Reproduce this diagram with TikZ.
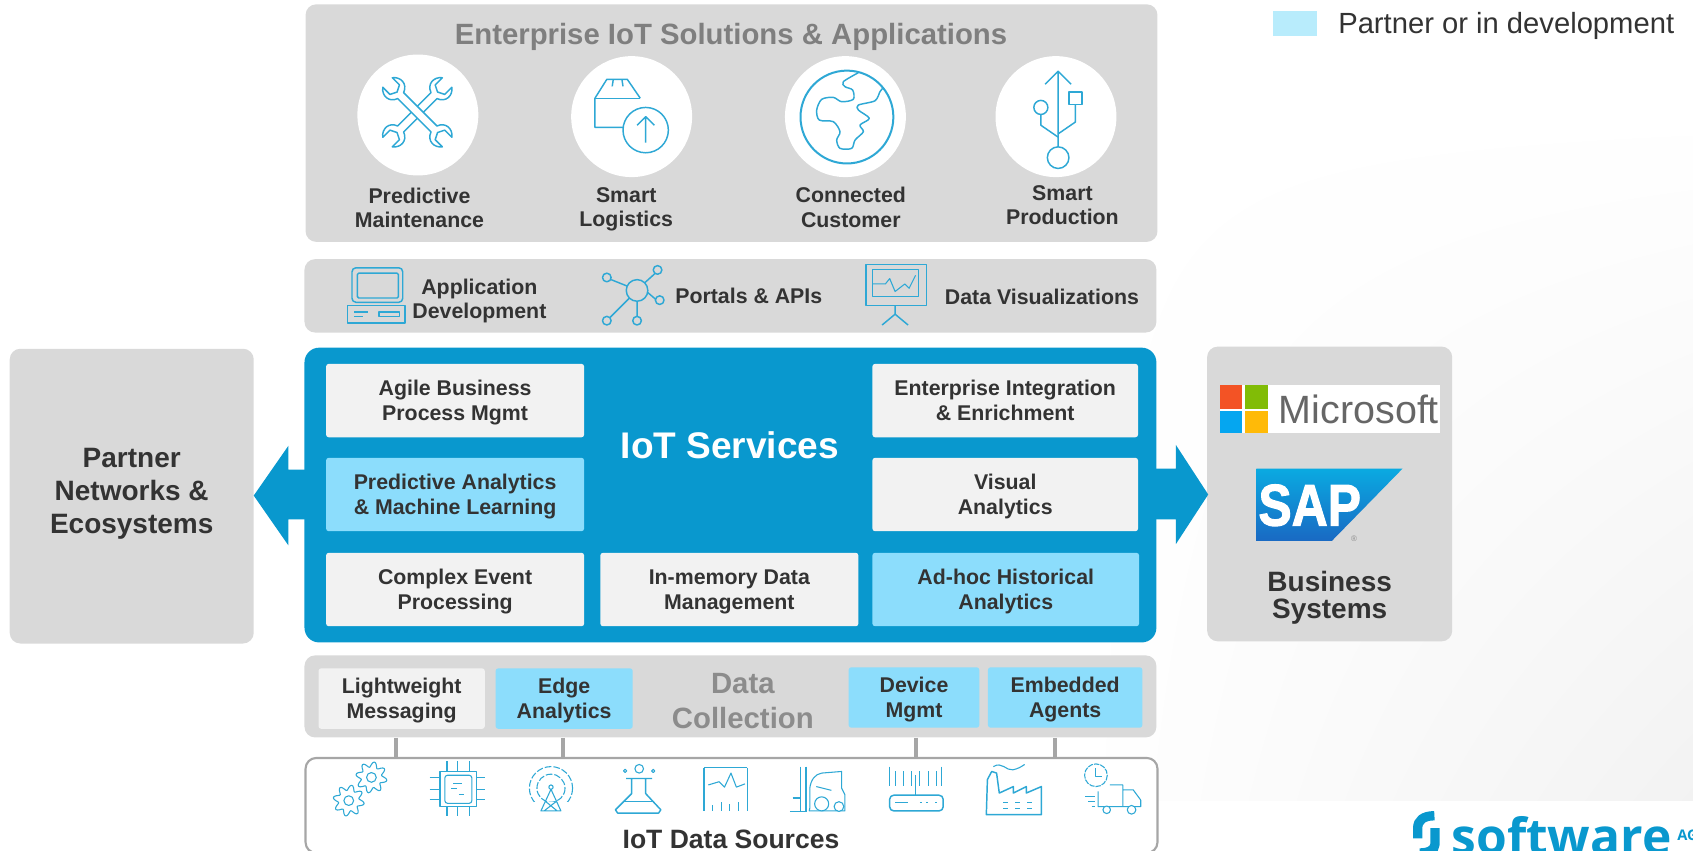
\documentclass[tikz,border=0pt]{standalone}
\usepackage{fontspec}
\usetikzlibrary{shadings}
\setmainfont{Liberation Sans}
\newfontfamily\logofont{Open Sans}
\newfontfamily\sapfont[FakeBold=2]{Liberation Sans}
\definecolor{panelgray}{RGB}{217,217,217}
\definecolor{boxgray}{RGB}{242,242,242}
\definecolor{boxblue}{RGB}{140,221,252}
\definecolor{legendblue}{RGB}{184,236,252}
\definecolor{servicesblue}{RGB}{9,152,206}
\definecolor{iconblue}{RGB}{46,168,213}
\definecolor{darktext}{RGB}{51,51,51}
\definecolor{headgray}{RGB}{127,127,127}
\definecolor{stemgray}{RGB}{166,166,166}
\definecolor{msred}{RGB}{243,83,37}
\definecolor{msgreen}{RGB}{129,188,6}
\definecolor{msblue}{RGB}{5,166,240}
\definecolor{msyellow}{RGB}{255,186,8}
\definecolor{saptop}{RGB}{10,170,225}
\definecolor{sapbottom}{RGB}{25,105,195}
\tikzset{every picture/.style={line width=0.75pt}}
\tikzset{
  wd/.style={minimum width=#1*0.81pt},
  ht/.style={minimum height=#1*0.81pt},
  panel/.style={fill=panelgray,rounded corners=8pt,inner sep=0pt},
  itembox/.style={fill=boxgray,rounded corners=2pt,inner sep=0pt,align=center,text=darktext,text depth=0pt,
    font=\fontsize{16}{19}\selectfont\bfseries},
  partnerbox/.style={itembox,fill=boxblue},
  caption/.style={inner sep=0pt,align=center,text=darktext,text depth=0pt,font=\fontsize{16}{18}\selectfont\bfseries},
  bigcaption/.style={inner sep=0pt,align=center,text=darktext,text depth=0pt,font=\fontsize{21}{24.7}\selectfont\bfseries},
  headcaption/.style={inner sep=0pt,align=center,text=headgray,text depth=0pt,font=\fontsize{22}{24}\selectfont\bfseries},
  whitedisc/.style={circle,fill=white,inner sep=0pt,minimum size=112*0.81pt},
  icon/.style={draw=iconblue,line width=1.1pt,line join=round},
  thinicon/.style={draw=iconblue,line width=0.8pt,line join=round},
  stem/.style={draw=stemgray,line width=3pt},
  logostroke/.style={draw=servicesblue,line width=7pt},
}

\begin{document}
\begin{tikzpicture}[x=0.81pt,y=0.81pt,yscale=-1,xscale=1]
\useasboundingbox (0,0) rectangle (1568,788);

%Shape: faint background
\shade[upper left=white,upper right=white,lower left=white,lower right=black!5] (1000,100) rectangle (1568,741);

%Shape: Panels
\node[panel,wd=789,ht=220] (solutions) at (677.5,114) {};
\node[panel,wd=789,ht=68] (tools) at (676.5,274) {};
\node[panel,wd=226,ht=273] (partners) at (122,459.5) {};
\node[panel,wd=227,ht=273] (business) at (1231.5,457.5) {};
\node[panel,fill=white,draw=stemgray,line width=1.6pt,wd=789,ht=88] (sources) at (677.5,746) {};
\node[panel,wd=789,ht=76] (collect) at (676.5,645) {};

%Shape: Arrows left and right of the services block
\fill[servicesblue] (290,435) -- (267,435) -- (267,413) -- (235,459) -- (267,505) -- (267,481) -- (290,481) -- cycle;
\fill[servicesblue] (1060,434) -- (1089,434) -- (1089,412) -- (1119,458) -- (1089,504) -- (1089,481) -- (1060,481) -- cycle;
\node[panel,fill=servicesblue,rounded corners=11pt,wd=789,ht=273] (services) at (676.5,458.5) {};

%Shape: Service boxes
\node[itembox,wd=239,ht=68] (agile) at (421.5,371) {Agile Business\\Process Mgmt};
\node[partnerbox,wd=239,ht=68] (predict) at (421.5,458) {Predictive Analytics\\\& Machine Learning};
\node[itembox,wd=239,ht=68] (complex) at (421.5,546) {Complex Event\\Processing};
\node[itembox,wd=239,ht=68] (inmemory) at (675.5,546) {In-memory Data\\Management};
\node[itembox,wd=246,ht=68] (enterprise) at (931,371) {Enterprise Integration\\\& Enrichment};
\node[itembox,wd=246,ht=68] (visual) at (931,458) {Visual\\Analytics};
\node[partnerbox,wd=247,ht=68] (adhoc) at (931.5,546) {Ad-hoc Historical\\Analytics};

%Shape: Collection boxes
\node[itembox,wd=154,ht=56] (messaging) at (372,647) {Lightweight\\Messaging};
\node[partnerbox,wd=127,ht=56] (edge) at (522.5,647) {Edge\\Analytics};
\node[partnerbox,wd=121,ht=56] (device) at (846.5,646) {Device\\Mgmt};
\node[partnerbox,wd=143,ht=56] (agents) at (986.5,646) {Embedded\\Agents};

%Straight Lines
\coordinate (stemA) at (367,690);
\coordinate (stemB) at (521,690);
\coordinate (stemC) at (848,690);
\coordinate (stemD) at (977,690);
\draw[stem] (stemA |- collect.south) -- (stemA |- sources.north);
\draw[stem] (stemB |- collect.south) -- (stemB |- sources.north);
\draw[stem] (stemC |- collect.south) -- (stemC |- sources.north);
\draw[stem] (stemD |- collect.south) -- (stemD |- sources.north);

%Shape: Legend
\node[fill=legendblue,inner sep=0pt,wd=41,ht=23] (legend) at (1199.5,21.5) {};

%Shape: White discs
\node[whitedisc] (discA) at (387,106.5) {};
\node[whitedisc] (discB) at (585,108) {};
\node[whitedisc] (discC) at (783,108) {};
\node[whitedisc] (discD) at (978,108) {};

%Wrenches
\begin{scope}[shift={(386.5,104)},rotate=45,scale=0.78]
\draw[icon] (-5,-28) -- (-5,28) .. controls (-16,32) and (-16,44) .. (-8,50) -- (-8,38) -- (0,34) -- (8,38) -- (8,50) .. controls (16,44) and (16,32) .. (5,28) -- (5,-28) .. controls (16,-32) and (16,-44) .. (8,-50) -- (8,-38) -- (0,-34) -- (-8,-38) -- (-8,-50) .. controls (-16,-44) and (-16,-32) .. (-5,-28) -- cycle;
\draw[icon,fill=white,rotate=90] (-5,-28) -- (-5,28) .. controls (-16,32) and (-16,44) .. (-8,50) -- (-8,38) -- (0,34) -- (8,38) -- (8,50) .. controls (16,44) and (16,32) .. (5,28) -- (5,-28) .. controls (16,-32) and (16,-44) .. (8,-50) -- (8,-38) -- (0,-34) -- (-8,-38) -- (-8,-50) .. controls (-16,-44) and (-16,-32) .. (-5,-28) -- cycle;
\end{scope}
%Parcel with upload
\draw[icon] (593,91) -- (581,73.5) -- (562,73.5) -- (551,91) -- (551,118) -- (577,118);
\draw[icon] (551,91) -- (593,91);
\draw[icon] (568,73.5) -- (567,80) (576,73.5) -- (577,80);
\draw[icon] (598,120.5) circle (21);
\draw[icon] (598,132) -- (598,108) (590,116) -- (598,108) -- (606,116);
%Globe
\draw[icon,line width=1.5pt] (784.4,108.4) circle (43);
\draw[icon] plot[smooth] coordinates {(795,67.3) (781,75.7) (782.6,80.3) (789.7,83.4) (790.3,92) (779.5,94.2) (771.8,90.2) (761,92) (756.4,101.9) (758.8,111.2) (771.8,112.7) (778,122) (774.9,129.7) (778,137.4) (788.8,137.4) (791.9,129.7) (799.6,122) (796.5,115.8) (805.1,109.6) (795,101.9) (795,97.3) (810.4,93.3) (815,84.9) (817.5,81.8)};
%USB
\draw[icon] (980,136) -- (980,66) (968,78) -- (980,66) -- (992,78);
\draw[icon] (980,146) circle (10);
\draw[icon] (964,99.5) circle (6.5);
\draw[icon] (964,106) -- (964,116) -- (980,127);
\draw[icon] (990,85) rectangle (1002,97);
\draw[icon] (996,97) -- (996,113) -- (980,124);

%Computer
\draw[icon,rounded corners=3pt] (326,248) rectangle (373,280);
\draw[icon,rounded corners=1pt] (331,253) rectangle (369,276);
\draw[icon] (322,283) rectangle (375,299);
\draw[icon] (351,289) rectangle (370,293);
\draw[icon] (328,289) -- (341,289) (328,293) -- (336,293);
%Hub
\draw[icon] (590,269) circle (10);
\draw[icon] (609,250) circle (4) (562,257) circle (4) (611,278) circle (4) (562,297) circle (4) (590,297) circle (4);
\draw[icon] (597,262) -- (607,253) (581,265) -- (566,259) (600,271) -- (607,277) (583,276) -- (565,294) (590,279) -- (590,293);
%Board
\draw[icon] (802,245) rectangle (858,283);
\draw[thinicon] (808,250) rectangle (851,275);
\draw[icon] (802,245) -- (858,245);
\draw[thinicon] (808,263) -- (820,263) -- (824,258) -- (829,270) -- (838,263) -- (842,267) -- (848,255);
\draw[icon] (829,283) -- (829,291) -- (817,301) (829,291) -- (841,301);

%Gears
\draw[thinicon,shift={(344,720)}] plot[domain=0:360,samples=73] ({(12+2.5*sin(8*\x))*cos(\x)},{(12+2.5*sin(8*\x))*sin(\x)}) -- cycle;
\draw[thinicon] (344,720) circle (4.5);
\draw[thinicon,shift={(323,741.5)}] plot[domain=0:360,samples=73] ({(12+2.5*sin(8*\x))*cos(\x)},{(12+2.5*sin(8*\x))*sin(\x)}) -- cycle;
\draw[thinicon] (323,741.5) circle (4.5);
%Chip
\draw[icon] (407.5,714.5) rectangle (441.5,747);
\draw[thinicon,rounded corners=2pt] (412,718) rectangle (437,744);
\draw[thinicon] (414,705) -- (414,714.5) (424,705) -- (424,714.5) (435,705) -- (435,714.5) (414,747) -- (414,756) (424,747) -- (424,756) (435,747) -- (435,756);
\draw[thinicon] (398,720.5) -- (407.5,720.5) (398,731.5) -- (407.5,731.5) (398,740.5) -- (407.5,740.5) (441.5,720.5) -- (449,720.5) (441.5,731.5) -- (449,731.5) (441.5,740.5) -- (449,740.5);
\draw[thinicon] (420,726) -- (427.5,726) (418,730.5) -- (423,730.5) (425,736) -- (430,736);
%Tower
\draw[thinicon,dash pattern=on 5pt off 1.5pt] (510.3,730) circle (20);
\draw[thinicon,dash pattern=on 5pt off 1.5pt] (510.3,730) circle (13);
\draw[white,fill=white] (495,743) rectangle (526,756);
\draw[thinicon] (510.3,729) circle (2);
\draw[thinicon] (510.3,731) -- (501,751) -- (519.5,751) -- cycle (505,742) -- (516,751) (515.5,742) -- (504,751);
%Flask
\draw[icon] (580,721) -- (604,721) (585,721) -- (585,735) -- (570,750) -- (572,753) -- (610,753) -- (612,750) -- (598,735) -- (598,721);
\draw[thinicon] (577,742) -- (605,742);
\draw[thinicon] (592,712) circle (4) (579,714) circle (1.5) (605,714) circle (1.5);
%Tablet
\draw[icon] (652,711) -- (692,711);
\draw[thinicon] (652,711) -- (652,751) (692,711) -- (692,751);
\draw[thinicon] (656,727) -- (666,724) -- (671,729) -- (677,716) -- (682,729) -- (690,726);
\draw[thinicon] (660,746) -- (660,751) (668,743) -- (668,751) (676,745) -- (676,751) (684,743) -- (684,751);
%Forklift
\draw[icon] (741.5,710) -- (741.5,751.5) (746.5,710) -- (746.5,751.5) (731.5,751.5) -- (747,751.5) (734,739) -- (741.5,739);
\draw[thinicon] (750,748.5) -- (750,730) .. controls (751,722) and (755,717) .. (761,716) -- (779.5,714.5) -- (779.5,730) -- (782.5,736) -- (782.5,751) -- (749.5,751) -- cycle;
\draw[thinicon] (756,728.5) -- (770,732);
\draw[thinicon,fill=white] (761,744.5) circle (6.5) (777,747) circle (4.5);
%Router
\draw[icon] (824,710) -- (824,728) (872,710) -- (872,728);
\draw[thinicon] (829,714.5) -- (829,728) (837,714.5) -- (837,728) (844,714.5) -- (844,728) (848,718) -- (848,736.5) (852,714.5) -- (852,728) (860,714.5) -- (860,728) (867.5,714.5) -- (867.5,728);
\draw[icon,rounded corners=3pt] (824,736.5) rectangle (873.5,751);
\draw[thinicon] (829,743) -- (841,743) (852,743) -- (853.5,743) (858,743) -- (859.5,743) (866,743) -- (867.5,743);
%Factory
\draw[icon] (913.5,754.5) -- (914.5,722) -- (918.5,714.5) -- (923,716) -- (925.5,734.5) -- (938.5,728.5) -- (938.5,734.5) -- (950.5,728.5) -- (950.5,734.5) -- (964.5,728.5) -- (964.5,754.5) -- cycle;
\draw[thinicon] (920,710) .. controls (928,705) and (932,714) .. (938,713) .. controls (943,712) and (946,710) .. (949,708);
\draw[thinicon,dash pattern=on 4pt off 5pt] (929,743) -- (960,743) (929,748.5) -- (960,748.5);
%Truck
\draw[thinicon,dash pattern=on 4pt off 0.8pt] (1015,718) circle (10.5);
\draw[thinicon] (1015,711.5) -- (1015,719) -- (1020.5,719);
\draw[thinicon] (1017,733) -- (1017,747) -- (1056.5,747) -- (1056.5,741) -- (1049.5,731.5) -- (1040,731.5) (1028,727) -- (1040,727) -- (1040,747);
\draw[thinicon,fill=white] (1025,750) circle (3.5) (1048,750) circle (4);
\draw[thinicon] (1005,737.5) -- (1014,737.5) (1008,742) -- (1014,742) (1011,747) -- (1014,747);

%Shape: Microsoft logo
\fill[white] (1130,357) rectangle (1334,401);
\fill[msred] (1130,357) rectangle (1150,379);
\fill[msgreen] (1153,357) rectangle (1174,379);
\fill[msblue] (1130,381) rectangle (1150,401);
\fill[msyellow] (1153,381) rectangle (1174,401);
%Shape: SAP logo
\shade[top color=saptop,bottom color=sapbottom] (1163.5,434) -- (1299,434) -- (1233.5,501) -- (1163.5,501) -- cycle;

% Text Node
\node[headcaption] (solutionshead) at (677,31) {Enterprise IoT Solutions \& Applications};
\node[caption] (maintenance) at (388.5,192) {Predictive\\Maintenance};
\node[caption] (logistics) at (580,192) {Smart\\Logistics};
\node[caption,font=\fontsize{16}{19.2}\selectfont\bfseries] (customer) at (788,192) {Connected\\Customer};
\node[caption] (production) at (984,190) {Smart\\Production};
\node[caption] (appdev) at (444,277) {Application\\Development};
\node[caption] (portals) at (693.5,274) {Portals \& APIs};
\node[caption] (dataviz) at (965,275) {Data Visualizations};
\node[bigcaption] (partnerlabel) at (122,455) {Partner\\Networks \&\\Ecosystems};
\node[bigcaption,font=\fontsize{21}{20.2}\selectfont\bfseries] (businesslabel) at (1231.5,551) {Business\\Systems};
\node[bigcaption,text=white,font=\fontsize{27.8}{30}\selectfont\bfseries] (serviceslabel) at (676,412) {IoT Services};
\node[bigcaption,text=headgray!90,font=\fontsize{22}{26.7}\selectfont\bfseries] (collectlabel) at (688,649) {Data\\Collection};
\node[bigcaption,font=\fontsize{19.9}{24}\selectfont\bfseries] (sourceslabel) at (677,777) {IoT Data Sources};
\node[inner sep=0pt,anchor=west,text=darktext,text depth=0pt,font=\fontsize{21.9}{24}\selectfont] (legendlabel) at (1239,21) {Partner or in development};
\node[inner sep=0pt,anchor=west,text=black!60,font=\fontsize{29.6}{30}\selectfont] (mslabel) at (1184,379) {Microsoft};
\node[inner sep=0pt,text=white,xscale=0.85,font=\sapfont\fontsize{44}{44}\selectfont\bfseries] (saplabel) at (1213,468) {SAP};
\node[inner sep=0pt,text=black!45,font=\fontsize{6}{6}\selectfont] (sapmark) at (1254,499) {®};

%Shape: Logo mark
\draw[logostroke] (1328.5,755.5) .. controls (1318,755.5) and (1313,760) .. (1313,767) -- (1313,776.5);
\draw[logostroke] (1329,767) -- (1329,782) .. controls (1329,787) and (1323,790) .. (1315,790);
\node[inner sep=0pt,anchor=base west,text=servicesblue,font=\logofont\fontsize{37.3}{40}\selectfont\bfseries] (logotext) at (1344,791) {software};
\node[inner sep=0pt,anchor=base west,text=servicesblue,font=\logofont\fontsize{11}{12}\selectfont\bfseries] (logoag) at (1553,778) {AG};

\end{tikzpicture}
\end{document}
